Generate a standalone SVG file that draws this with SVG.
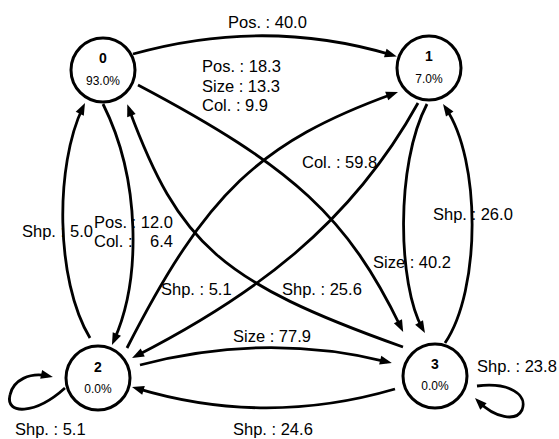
<svg xmlns="http://www.w3.org/2000/svg" width="559" height="439" viewBox="0 0 559 439">
<defs>
<marker id="ah" markerUnits="userSpaceOnUse" markerWidth="12" markerHeight="9" refX="7" refY="4.5" orient="auto" overflow="visible">
<path d="M0,0 L12,4.5 L0,9 z" fill="#000"/>
</marker>
<style>
.n{fill:#fff;stroke:#000;stroke-width:3}
.id{font-family:"Liberation Sans",Arial,sans-serif;font-weight:bold;font-size:14px;text-anchor:middle}
.p{font-family:"Liberation Sans",Arial,sans-serif;font-size:12px;text-anchor:middle}
.e{fill:none;stroke:#000;stroke-width:2.8;marker-end:url(#ah)}
.l{font-family:"Liberation Sans",Arial,sans-serif;font-size:16.5px;fill:#000}
</style>
</defs>
<rect width="559" height="439" fill="#fff"/>
<g id="edges">
<path class="e" d="M133,54 Q265,17 392,55"/>
<path class="e" d="M138,85 C295,168 348,218 401,327.5"/>
<path class="e" d="M403,347 C220,282 179,244 129,109"/>
<path class="e" d="M127,348 C206,193 260,142 393.3,93.7"/>
<path class="e" d="M418,103 C350,226 251,297 136.5,355.7"/>
<path class="e" d="M427,104 C395,165 398,285 422.5,328.6"/>
<path class="e" d="M445,343 C481,290 481,160 445.8,108.2"/>
<path class="e" d="M103,104 C141,180 141,280 114,340.4"/>
<path class="e" d="M90,338 C55,280 55,165 82.8,107.5"/>
<path class="e" d="M140,365 Q266,332 387,361.8"/>
<path class="e" d="M395,389 Q265,427 136.8,388.4"/>
<path class="e" d="M65,388 C35,415 5,415 10,395 C13,380 30,372 48,376"/>
<path class="e" d="M477,386 C510,382 528,395 522,410 C516,422 495,418 478.5,401.5"/>
</g>
<g id="labels">
<text class="l" x="228" y="28">Pos. : 40.0</text>
<text class="l" x="202" y="72">Pos. : 18.3</text>
<text class="l" x="202" y="91.5">Size : 13.3</text>
<text class="l" x="202" y="111">Col. : 9.9</text>
<text class="l" x="302" y="168">Col. : 59.8</text>
<text class="l" x="433" y="220">Shp. : 26.0</text>
<text class="l" x="373" y="268">Size : 40.2</text>
<text class="l" x="282" y="295">Shp. : 25.6</text>
<text class="l" x="161" y="295">Shp. : 5.1</text>
<text class="l"><tspan x="22" y="237">Shp. :</tspan><tspan x="70" y="237">5.0</tspan></text>
<text class="l" x="94" y="228">Pos. : 12.0</text>
<text class="l"><tspan x="94" y="247">Col. :</tspan><tspan x="150" y="247">6.4</tspan></text>
<text class="l" x="233" y="342">Size : 77.9</text>
<text class="l" x="233" y="435">Shp. : 24.6</text>
<text class="l" x="15" y="435">Shp. : 5.1</text>
<text class="l" x="477" y="372">Shp. : 23.8</text>
</g>
<g id="node0"><circle class="n" cx="103" cy="70" r="32"/><text class="id" x="103" y="63">0</text><text class="p" x="103" y="85">93.0%</text></g>
<g id="node1"><circle class="n" cx="429" cy="68" r="32"/><text class="id" x="429" y="61">1</text><text class="p" x="429" y="83">7.0%</text></g>
<g id="node2"><circle class="n" cx="98" cy="378" r="32"/><text class="id" x="98" y="372">2</text><text class="p" x="98" y="393">0.0%</text></g>
<g id="node3"><circle class="n" cx="435" cy="376" r="32"/><text class="id" x="435" y="369">3</text><text class="p" x="435" y="390">0.0%</text></g>
</svg>
